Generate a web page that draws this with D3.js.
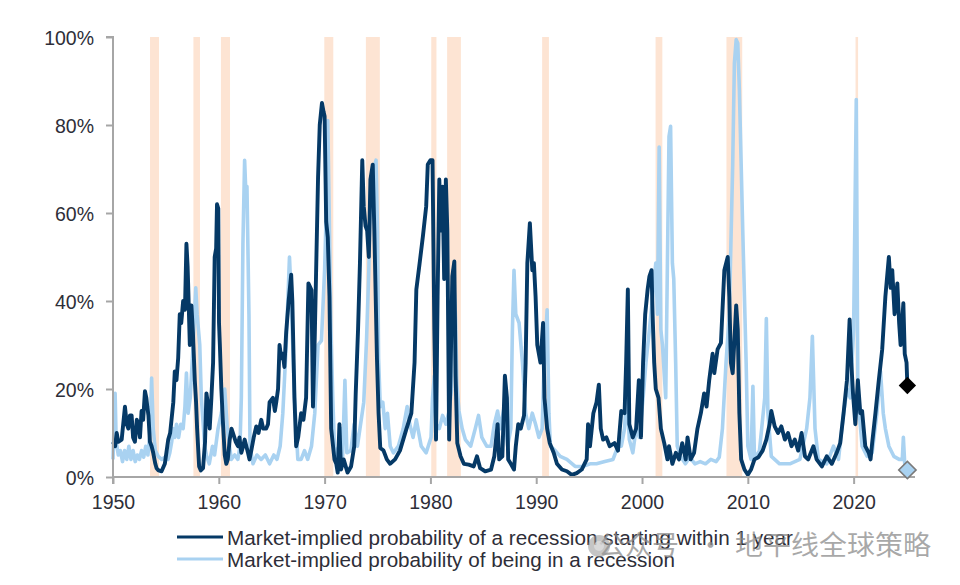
<!DOCTYPE html>
<html><head><meta charset="utf-8">
<script src="https://cdn.jsdelivr.net/npm/d3@7"></script>
<style>body{margin:0;background:#fff}svg{display:block}</style>
</head><body>
<svg id="chart" width="960" height="585"></svg>
<script>
const xTickYears=[1950,1960,1970,1980,1990,2000,2010,2020];
const yTickValues=[0,20,40,60,80,100];
const recessionStarts=[1953.5,1957.6,1960.2,1969.97,1973.9,1980.08,1981.58,1990.56,2001.28,2007.98,2020.18];
const recessionEnds=[1954.35,1958.22,1961.06,1970.82,1975.22,1980.57,1982.88,1991.2,2001.92,2009.47,2020.42];
const legendLabels=["Market-implied probability of a recession starting within 1 year","Market-implied probability of being in a recession"];

const darkYears=[1950.0,1950.2,1950.35,1950.5,1950.82,1951.13,1951.3,1951.45,1951.6,1951.76,1951.9,1952.07,1952.25,1952.39,1952.55,1952.7,1952.85,1953.02,1953.15,1953.24,1953.35,1953.49,1953.65,1953.8,1954.0,1954.12,1954.3,1954.59,1954.9,1955.22,1955.4,1955.53,1955.7,1955.84,1956.0,1956.16,1956.31,1956.45,1956.63,1956.8,1956.94,1957.05,1957.1,1957.26,1957.41,1957.55,1957.73,1957.85,1957.95,1958.14,1958.3,1958.51,1958.7,1958.83,1958.95,1959.14,1959.3,1959.46,1959.61,1959.75,1959.83,1959.95,1960.02,1960.1,1960.24,1960.4,1960.56,1960.71,1960.85,1961.03,1961.2,1961.34,1961.6,1961.81,1961.95,1962.13,1962.3,1962.44,1962.6,1962.76,1962.9,1963.07,1963.3,1963.54,1963.75,1964.01,1964.2,1964.48,1964.65,1964.8,1965.11,1965.3,1965.43,1965.6,1965.74,1965.9,1966.05,1966.2,1966.37,1966.6,1966.84,1966.95,1967.15,1967.31,1967.5,1967.78,1968.0,1968.25,1968.47,1968.76,1968.9,1969.07,1969.38,1969.54,1969.75,1969.9,1970.0,1970.15,1970.3,1970.46,1970.62,1970.93,1971.1,1971.24,1971.4,1971.55,1971.8,1972.17,1972.5,1972.8,1972.94,1973.16,1973.34,1973.56,1973.7,1973.87,1974.02,1974.18,1974.33,1974.55,1974.7,1974.95,1975.1,1975.26,1975.57,1975.88,1976.19,1976.66,1977.12,1977.43,1977.74,1978.2,1978.5,1978.67,1978.98,1979.29,1979.6,1979.75,1980.0,1980.2,1980.37,1980.53,1980.68,1980.84,1981.0,1981.15,1981.3,1981.46,1981.6,1981.77,1981.9,1982.07,1982.26,1982.38,1982.54,1982.85,1983.16,1983.62,1984.09,1984.4,1984.7,1985.17,1985.73,1986.04,1986.35,1986.5,1986.8,1987.04,1987.23,1987.35,1987.6,1987.9,1988.07,1988.3,1988.54,1988.85,1989.0,1989.16,1989.4,1989.63,1989.78,1989.94,1990.1,1990.4,1990.65,1990.78,1991.03,1991.28,1991.65,1991.96,1992.43,1992.9,1993.36,1993.83,1994.3,1994.77,1994.9,1995.08,1995.4,1995.7,1995.92,1996.1,1996.32,1996.63,1996.95,1997.4,1997.73,1998.04,1998.35,1998.5,1998.66,1998.8,1999.13,1999.44,1999.7,1999.9,2000.1,2000.3,2000.53,2000.7,2000.9,2001.0,2001.15,2001.3,2001.56,2001.78,2002.1,2002.4,2002.55,2002.87,2003.2,2003.5,2003.8,2004.13,2004.3,2004.6,2004.92,2005.24,2005.56,2005.87,2006.1,2006.35,2006.67,2006.83,2007.14,2007.46,2007.78,2008.1,2008.25,2008.4,2008.57,2008.9,2009.05,2009.2,2009.37,2009.68,2010.0,2010.3,2010.63,2011.0,2011.4,2011.75,2012.06,2012.22,2012.54,2012.86,2013.17,2013.5,2013.8,2014.13,2014.44,2014.76,2015.08,2015.4,2015.7,2016.2,2016.5,2017.0,2017.46,2017.94,2018.4,2018.73,2019.05,2019.37,2019.62,2019.78,2019.94,2020.16,2020.4,2020.63,2020.8,2021.1,2021.43,2021.6,2021.75,2022.06,2022.38,2022.7,2023.0,2023.33,2023.5,2023.65,2023.87,2024.13,2024.3,2024.44,2024.7,2024.83,2025.0,2025.08];
const darkValues=[8,7,10,8,8.5,16,12,11,14,14,9,8,13,12,9,15,13,19.5,18,16,14,8,7,5.5,3,2,1.5,1.3,3,8.5,10,13,17,24,22,27,37,35,40,38,53,48,44,30,39,33,22,17,11,2.4,1.5,2,8,19,17,11,18,26,50,52,62,61,35,30,20,12,5,3,4,8.5,11,10,8,7,9,5.5,7,8.5,7,5.5,4,6,9,11.5,10,13,11,11,12,17,18,15,17,20,30,27,28,25,33,40,46,40,18,7,9,14.5,13,18,44,42.5,16,32,68,80,85,83,82,58,54.5,41,11,4,3,1,12,1.7,4,1,2.4,7,19,33.5,48.6,72,61.5,57,56,50,67.6,71,56,26.7,14.5,6.6,6,4,3,4,6,8.5,11,14.5,26,42.6,48.6,54.7,61.5,71,72,72,33.5,8.5,41,67.6,56,66,45,67.6,56,8.5,23,45.6,49,23,7.7,4.7,3,2.8,2.4,4.7,2,1.3,1.7,4.7,12,4,4.7,23,18,4,3,1.7,7,12,11,14,26,48.6,57.7,47,48.6,41,30,26,35,18,11,7.7,5.5,3,1.7,1.3,0.5,0.9,1.7,4,12,7,14.5,17,21,11,8.5,9,7,7.7,6,15,14.5,26,42.6,12,9,11,22,9,26,37,42.6,45.6,47,37,26,20,18,11,7.7,4,7,3,5.5,4,7.7,4,9,4,5.5,11,14.5,19,16,22,28,23.6,29,30.5,47,50,41,26,23.6,39,33.5,14.5,4,1.7,0.5,1.7,4,4.5,6,8.5,12,15,11.5,10,11.5,8.5,10,7,8.5,6,10,4.7,4,7,4,2.4,4.7,3,5.5,7.7,14.5,22,35.8,26,19,12,22,14.5,15,7,5.5,4,7.7,14.5,22,29,41,50,43,47,37,44,35,30,39.5,28,26,20.8];

const lightYears=[1950.0,1950.1,1950.2,1950.3,1950.5,1950.7,1950.9,1951.1,1951.3,1951.5,1951.7,1951.9,1952.1,1952.3,1952.5,1952.7,1952.9,1953.1,1953.3,1953.5,1953.65,1953.8,1954.0,1954.27,1954.6,1954.9,1955.2,1955.37,1955.55,1955.69,1955.85,1956.0,1956.2,1956.4,1956.63,1956.8,1956.94,1957.1,1957.3,1957.57,1957.82,1957.95,1958.2,1958.35,1958.67,1958.85,1959.1,1959.4,1959.6,1959.93,1960.24,1960.56,1960.8,1961.18,1961.5,1961.8,1962.0,1962.13,1962.28,1962.44,1962.55,1962.66,1962.85,1962.95,1963.23,1963.6,1964.0,1964.4,1964.8,1965.2,1965.5,1965.8,1966.05,1966.37,1966.68,1966.84,1967.15,1967.47,1967.78,1968.1,1968.4,1968.76,1969.07,1969.38,1969.7,1970.0,1970.15,1970.3,1970.46,1970.6,1970.77,1970.93,1971.24,1971.55,1971.7,1971.92,1972.1,1972.48,1972.79,1973.1,1973.4,1973.7,1973.96,1974.18,1974.33,1974.5,1974.64,1974.86,1975.0,1975.1,1975.26,1975.5,1975.73,1975.94,1976.2,1976.5,1976.97,1977.43,1977.8,1978.05,1978.36,1978.67,1979.13,1979.6,1980.06,1980.2,1980.37,1980.53,1980.84,1981.15,1981.46,1981.77,1982.0,1982.14,1982.3,1982.38,1982.5,1982.7,1983.0,1983.3,1983.8,1984.24,1984.55,1984.86,1985.32,1985.73,1986.04,1986.35,1986.6,1986.98,1987.3,1987.6,1987.75,1987.9,1988.07,1988.38,1988.7,1989.0,1989.3,1989.63,1989.94,1990.25,1990.56,1990.72,1991.03,1991.2,1991.34,1991.8,1992.27,1992.9,1993.68,1994.45,1995.08,1995.7,1996.48,1997.26,1997.73,1998.04,1998.35,1998.57,1998.8,1999.13,1999.44,1999.75,2000.1,2000.37,2000.7,2001.0,2001.3,2001.46,2001.62,2001.78,2001.93,2002.24,2002.4,2002.55,2002.7,2002.87,2003.0,2003.18,2003.33,2003.64,2004.1,2004.5,2005.0,2005.5,2006.0,2006.5,2007.0,2007.3,2007.6,2007.94,2008.25,2008.57,2008.73,2008.9,2009.05,2009.2,2009.37,2009.52,2009.68,2009.84,2010.0,2010.3,2010.48,2010.63,2011.1,2011.6,2011.75,2011.9,2012.22,2013.0,2013.97,2014.92,2015.56,2015.87,2016.1,2016.35,2016.67,2017.46,2018.1,2018.57,2019.05,2019.37,2019.68,2020.0,2020.25,2020.4,2020.8,2021.27,2021.75,2022.2,2022.54,2022.8,2023.0,2023.33,2023.8,2024.3,2024.6,2024.7,2024.83,2025.08];
const lightValues=[4,12,19,8,5,6,3.5,6,4,7,4,6,3.5,5,4,6,4.5,7,5,10,22.5,11,6,4.7,4,4.5,4,5.5,8,11,9,12,9,12,11,16,23.6,14.5,18,30,43,37,30,18,7,4.7,3,7,5,11,14.5,20,11,4,5,4,7,18,53,72,65,66,37,7,3,5,4,5,3,5,4,7,14.5,30,50,41,18,4,4,6,4,7,14.5,30,31,47,60,81,56,33.5,18,7,4.7,11,4.7,22,5.5,6,12,7,12,17,31,47,64,69,70,72,56,27,16,17,11,14.5,7,5.5,7,11,16,12,9,13,7,5.5,9,18,23,12,11,14,12,15,20,47,40,36,21,15,11,8.5,7,11,14,9,7,7,12,15,11,16,7,11,33.5,47,37,35,26,14.5,11,14.5,12,9,11,23.6,38,14.5,7,6,4.7,4,2.4,2.4,3,3,3.5,4,7,7,11,20,8.5,5.5,11,9,18,26,33.5,41,48.6,37,75,33.5,30,18,48.6,77.4,79.7,48.6,45,26,7,4.7,3,4.5,3,3.5,3,4,3.5,4.5,11,26,37,71,94,99.4,98.6,88,71,56,41,26,7,4,20.6,4,6,18,36,14.5,4.7,3,3,4,11,18,32,11,4,3,7,4,14.5,20,18,33.5,85.8,18,7,4.7,5.5,14.5,24,14.5,11,7,4.7,4,4,9,3,1.6];

const svg=d3.select("#chart");
const x=d3.scaleLinear().domain([1950,2025.8]).range([113,915]);
const y=d3.scaleLinear().domain([0,100]).range([477,37]);

const DARK="#053966", LIGHT="#a9d2f1", BAND="#fde4d3";

svg.append("g").selectAll("rect").data(recessionStarts).join("rect")
  .attr("x",(d)=>x(d)).attr("width",(d,i)=>x(recessionEnds[i])-x(d))
  .attr("y",y(100)).attr("height",y(0)-y(100)).attr("fill",BAND);

const dark=darkYears.map((t,i)=>[t,darkValues[i]]);
const light=lightYears.map((t,i)=>[t,lightValues[i]]);
const line=d3.line().x(d=>x(d[0])).y(d=>y(d[1]));

svg.append("path").datum(light).attr("d",line).attr("fill","none")
  .attr("stroke",LIGHT).attr("stroke-width",3.6).attr("stroke-linejoin","round");
svg.append("path").datum(dark).attr("d",line).attr("fill","none")
  .attr("stroke",DARK).attr("stroke-width",3.9).attr("stroke-linejoin","round");

const axisColor="#a6a6a6";
const yAxis=svg.append("g").attr("transform",`translate(${x(1950)},0)`)
  .call(d3.axisLeft(y).tickValues(yTickValues).tickSize(7).tickPadding(12).tickFormat(d=>d+"%"));
const xAxis=svg.append("g").attr("transform",`translate(0,${y(0)})`)
  .call(d3.axisBottom(x).tickValues(xTickYears).tickSize(7).tickPadding(8).tickFormat(d3.format("d")));
[yAxis,xAxis].forEach(g=>{
  g.select(".domain").attr("stroke",axisColor).attr("stroke-width",2);
  g.selectAll(".tick line").attr("stroke",axisColor).attr("stroke-width",2);
  g.selectAll(".tick text").attr("fill","#2e2e38").attr("font-family","'Liberation Sans',Arial,sans-serif").attr("font-size","19.5px");
});
yAxis.select(".domain").attr("d",`M-7,${y(100)}H0V${y(0)}`);
xAxis.select(".domain").attr("d",`M${x(1950)},7V0H${x(2025.8)}`);
yAxis.selectAll(".tick text").attr("x",-19).attr("dy","0.4em");
xAxis.selectAll(".tick text").attr("dy","0.85em");

const lastD=dark[dark.length-1], lastL=light[light.length-1];
const diamond=d3.symbol().type(d3.symbolSquare).size(150);
svg.append("path").attr("d",diamond()).attr("fill","#000")
  .attr("transform",`translate(${x(lastD[0])},${y(lastD[1])}) rotate(45)`);
svg.append("path").attr("d",diamond()).attr("fill",LIGHT).attr("stroke","#7a7a7a").attr("stroke-width",1.6)
  .attr("transform",`translate(${x(lastL[0])},${y(lastL[1])}) rotate(45)`);

const legend=svg.append("g");
[DARK,LIGHT].forEach((c,i)=>{
  const yy=537+i*22;
  legend.append("line").attr("x1",177).attr("x2",223).attr("y1",yy).attr("y2",yy)
    .attr("stroke",c).attr("stroke-width",3);
  legend.append("text").attr("x",227).attr("y",yy+8).text(legendLabels[i])
    .attr("font-family","'Liberation Sans',Arial,sans-serif").attr("font-size","20.5px").attr("fill","#2e2e38")
    .attr("textLength",i===0?566:448).attr("lengthAdjust","spacingAndGlyphs");
});

const wm=svg.append("g").attr("fill","rgba(140,140,140,0.75)")
  .attr("font-family","'Noto Sans CJK SC',sans-serif").attr("font-size","27px");
wm.append("text").attr("x",598).attr("y",555).text("公众号");
wm.append("text").attr("x",697).attr("y",555).text("·");
wm.append("text").attr("x",735).attr("y",555).attr("textLength",196).attr("lengthAdjust","spacingAndGlyphs").text("地平线全球策略");
svg.append("circle").attr("cx",599).attr("cy",546).attr("r",11).attr("fill","rgba(150,150,150,0.55)");
svg.append("circle").attr("cx",599).attr("cy",546).attr("r",5).attr("fill","rgba(230,230,230,0.6)");
</script>
</body></html>
